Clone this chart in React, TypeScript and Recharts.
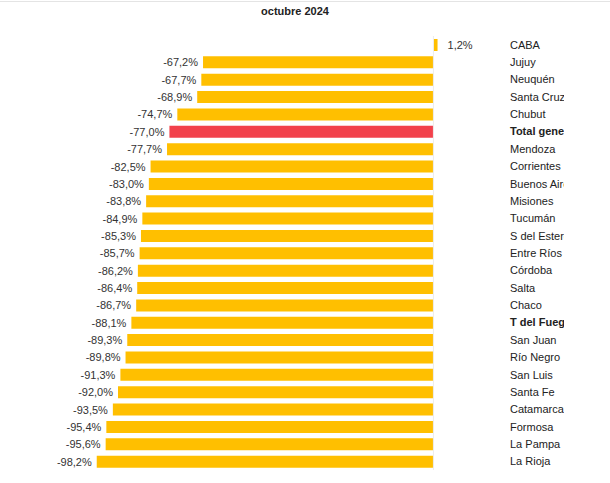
import React from 'react'
import { BarChart, Bar, XAxis, YAxis, Cell, LabelList, ReferenceLine } from 'recharts'

// variación interanual por provincia, octubre 2024
const provincias = [
  'CABA', 'Jujuy', 'Neuquén', 'Santa Cruz', 'Chubut', 'Total general', 'Mendoza',
  'Corrientes', 'Buenos Aires', 'Misiones', 'Tucumán', 'S del Estero', 'Entre Ríos',
  'Córdoba', 'Salta', 'Chaco', 'T del Fuego', 'San Juan', 'Río Negro', 'San Luis',
  'Santa Fe', 'Catamarca', 'Formosa', 'La Pampa', 'La Rioja',
]
const variacion = [
  1.2, -67.2, -67.7, -68.9, -74.7, -77.0, -77.7, -82.5, -83.0, -83.8, -84.9, -85.3,
  -85.7, -86.2, -86.4, -86.7, -88.1, -89.3, -89.8, -91.3, -92.0, -93.5, -95.4, -95.6, -98.2,
]
const destacados = ['Total general', 'T del Fuego']

const data = provincias.map((name, i) => ({ name, value: variacion[i] }))

const AMARILLO = '#FFBF00'
const ROJO = '#F2414B'
const FONT = '"Liberation Sans Narrow", "Liberation Sans", Arial, sans-serif'

const fmt = (v: number) => `${v.toFixed(1).replace('.', ',')}%`

const ValueLabel = (props: any) => {
  const { x, y, width, height, value } = props
  const neg = value < 0
  const end = x + width
  return (
    <text
      x={neg ? end - 5 : end + 10}
      y={y + height / 2}
      dy={4}
      textAnchor={neg ? 'end' : 'start'}
      fontSize={11}
      fontFamily={FONT}
      fill="#333"
    >
      {fmt(value)}
    </text>
  )
}

const ProvTick = (props: any) => {
  const { y, payload } = props
  const bold = destacados.includes(payload.value)
  return (
    <text
      x={510}
      y={y}
      dy={4}
      textAnchor="start"
      fontSize={11}
      fontFamily={FONT}
      fontWeight={bold ? 'bold' : 'normal'}
      fill="#222"
    >
      {payload.value}
    </text>
  )
}

export default function App() {
  return (
    <div style={{ position: 'absolute', left: 0, top: 0, width: 610, height: 483, background: '#fff' }}>
      <div style={{ position: 'absolute', left: 0, top: 1, width: 610, height: 1, background: '#e4e4e4' }} />
      <div
        style={{
          position: 'absolute', left: 0, width: 590, top: 5, textAlign: 'center',
          fontFamily: FONT, fontWeight: 'bold', fontSize: 11, color: '#222',
        }}
      >
        octubre 2024
      </div>
      <div style={{ position: 'absolute', left: 0, top: 0, width: 564, height: 483, overflow: 'hidden' }}>
        <BarChart
          width={610}
          height={483}
          data={data}
          layout="vertical"
          margin={{ top: 36, right: 0, bottom: 13, left: 22 }}
          barCategoryGap={0}
        >
          <XAxis type="number" domain={[-120, 20]} hide />
          <YAxis
            type="category"
            dataKey="name"
            orientation="right"
            width={108}
            axisLine={false}
            tickLine={false}
            tick={<ProvTick />}
            interval={0}
          />
          <ReferenceLine x={0} stroke="#ececec" strokeWidth={1} />
          <Bar dataKey="value" barSize={12} isAnimationActive={false}>
            {data.map((d) => (
              <Cell key={d.name} fill={d.name === 'Total general' ? ROJO : AMARILLO} />
            ))}
            <LabelList dataKey="value" content={<ValueLabel />} />
          </Bar>
        </BarChart>
      </div>
    </div>
  )
}
